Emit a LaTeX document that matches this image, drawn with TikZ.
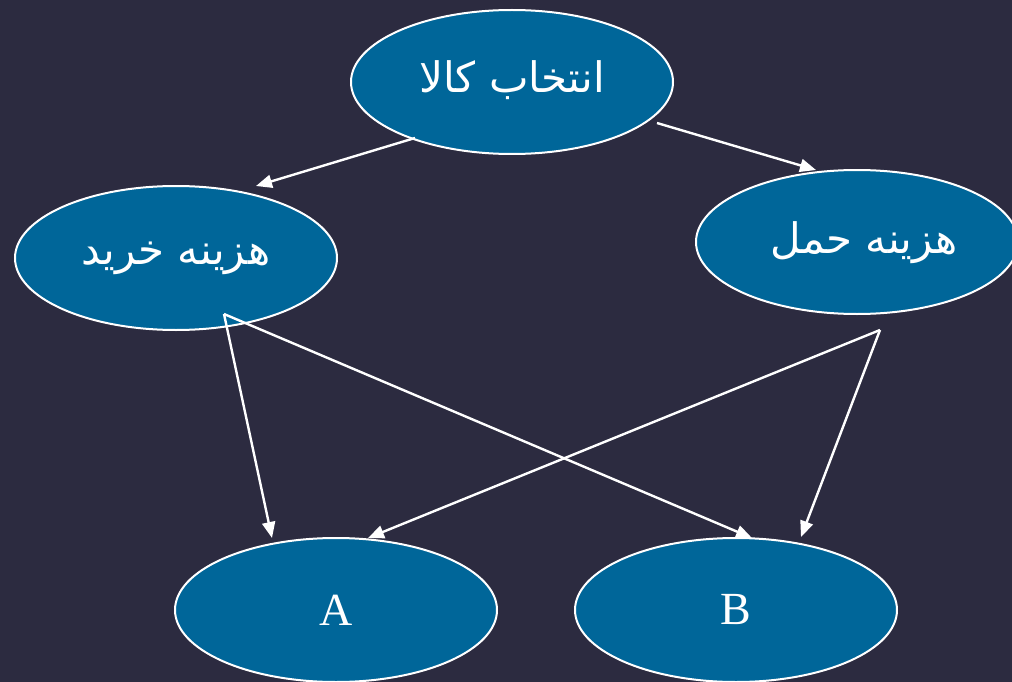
\documentclass[tikz,border=0pt]{standalone}
\usepackage{fontspec}
\setmainfont{Liberation Serif}
\newfontfamily\arabicfont[Script=Arabic]{DejaVu Sans}
\TeXXeTstate=1
\usetikzlibrary{arrows.meta,shapes.geometric}
\definecolor{bgcol}{HTML}{2C2B40}
\definecolor{ellcol}{HTML}{006699}
\tikzset{
  ell/.style={ellipse, draw=white, line width=2pt, fill=ellcol, minimum width=322pt, minimum height=144pt, inner sep=0pt, text=white},
  fa/.style={font=\arabicfont\fontsize{42}{46}\selectfont},
  lat/.style={font=\fontsize{46}{50}\selectfont},
  conn/.style={draw=white, line width=2.4pt, -{Triangle[length=16pt,width=13pt]}}
}
\begin{document}
\begin{tikzpicture}[x=1pt,y=-1pt]
\fill[bgcol] (0,0) rectangle (1012,682);
\useasboundingbox (0,0) rectangle (1012,682);
\clip (0,0) rectangle (1012,682);
\node[ell] (top) at (512,82) {};
\node[ell] (buy) at (176,258) {};
\node[ell] (ship) at (857,242) {};
\node[ell,lat] (A) at (336,610) {A};
\node[ell,lat] (B) at (736,610) {B};
\node[fa,text=white] (ttop) at (512,80) {\beginR انتخاب کالا\endR};
\node[fa,text=white] (tbuy) at (176,258) {\beginR هزینه خرید\endR};
\node[fa,text=white] (tship) at (864,243) {\beginR هزینه حمل\endR};
\coordinate (s1) at (415,138);
\coordinate (e1) at (256,186);
\coordinate (s2) at (657,123);
\coordinate (e2) at (816,170);
\coordinate (s3) at (224,314);
\coordinate (e3a) at (272,538);
\coordinate (e3b) at (752,538);
\coordinate (s4) at (880,330);
\coordinate (e4a) at (368,538);
\coordinate (e4b) at (801,537);
\draw[conn] (s1) -- (e1);
\draw[conn] (s2) -- (e2);
\draw[conn] (s3) -- (e3a);
\draw[conn] (s3) -- (e3b);
\draw[conn] (s4) -- (e4a);
\draw[conn] (s4) -- (e4b);
\end{tikzpicture}
\end{document}
